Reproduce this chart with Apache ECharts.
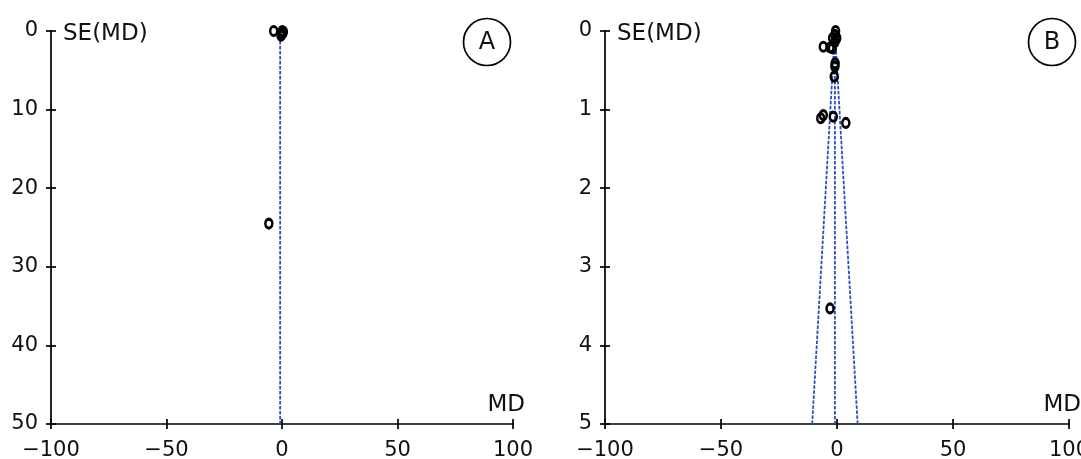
<!DOCTYPE html>
<html><head><meta charset="utf-8">
<script src="https://cdn.jsdelivr.net/npm/echarts@6/dist/echarts.min.js"></script>
<style>html,body{margin:0;padding:0;background:#fff}#c{width:1081px;height:459px}</style>
</head><body><div id="c"></div>
<script>
// ---- data ----
const mdTicks = [-100, -50, 0, 50, 100];
const seTicksA = [0, 10, 20, 30, 40, 50];
const seTicksB = [0, 1, 2, 3, 4, 5];
const panelLabels = ['A', 'B'];

const studiesA_MD = [-3.6, 0.1, 0.6, -0.2, 0.3, -0.4, -5.7];
const studiesA_SE = [0.0, 0.0, 0.1, 0.4, 0.3, 0.6, 24.5];

const studiesB_MD = [-0.6, -0.9, -1.9, -0.1, -5.9, -3.0, -2.0, -0.9, -0.8, -0.9, -1.2, -5.9, -7.0, -1.6, 3.8, -3.0];
const studiesB_SE = [0.0, 0.05, 0.09, 0.09, 0.2, 0.21, 0.22, 0.14, 0.41, 0.45, 0.58, 1.07, 1.11, 1.09, 1.17, 3.53];

const pooledA = -0.8;
const pooledB = -0.9;
const funnelBottomB = [-10.7, 8.9]; // MD of the 95% limits at SE = 5

// ---- chart ----
const FONT = 'DejaVu Sans';
const TXT = '#111';
const grids = [
  { left: 51, top: 31, width: 462, height: 393 },
  { left: 605, top: 31, width: 464, height: 393 }
];
const fmt = v => String(v).replace('-', '\u2212');

function xAxes(g, ticks) {
  const base = { type: 'value', gridIndex: g, min: ticks[0], max: ticks[ticks.length - 1],
    interval: ticks[1] - ticks[0], position: 'bottom', splitLine: { show: false } };
  return [
    Object.assign({}, base, {
      name: 'MD', nameLocation: 'end', nameGap: 12,
      nameTextStyle: { fontFamily: FONT, fontSize: 23, color: TXT, align: 'right', verticalAlign: 'bottom', padding: [0, 0, 7, 0] },
      axisLine: { onZero: false, lineStyle: { color: '#000', width: 1.7 } },
      axisTick: { inside: false, length: 5, lineStyle: { color: '#000', width: 1.7 } },
      axisLabel: { fontFamily: FONT, fontSize: 21, color: TXT, margin: 16, formatter: fmt }
    }),
    Object.assign({}, base, {
      axisLine: { show: false, onZero: false },
      axisTick: { inside: true, length: 5, lineStyle: { color: '#000', width: 1.7 } },
      axisLabel: { show: false }
    })
  ];
}
function yAxes(g, ticks) {
  const base = { type: 'value', gridIndex: g, inverse: true, min: ticks[0], max: ticks[ticks.length - 1],
    interval: ticks[1] - ticks[0], position: 'left', splitLine: { show: false } };
  return [
    Object.assign({}, base, {
      name: 'SE(MD)', nameLocation: 'start', nameGap: -3,
      nameTextStyle: { fontFamily: FONT, fontSize: 23, color: TXT, align: 'left', verticalAlign: 'middle', padding: [0, 0, 0, 12] },
      axisLine: { onZero: false, lineStyle: { color: '#000', width: 1.7 } },
      axisTick: { inside: false, length: 5, lineStyle: { color: '#000', width: 1.7 } },
      axisLabel: { fontFamily: FONT, fontSize: 21, color: TXT, margin: 13, formatter: fmt }
    }),
    Object.assign({}, base, {
      axisLine: { show: false, onZero: false },
      axisTick: { inside: true, length: 5, lineStyle: { color: '#000', width: 1.7 } },
      axisLabel: { show: false }
    })
  ];
}

const dash = { color: '#2f4fb8', width: 1.8, type: [3.5, 1.5] };
function line(xi, yi, pts) {
  return { type: 'line', xAxisIndex: xi, yAxisIndex: yi, data: pts, symbol: 'none', silent: true,
    lineStyle: dash, z: 2 };
}
function scatter(xi, yi, md, se) {
  return { type: 'scatter', xAxisIndex: xi, yAxisIndex: yi, data: md.map((m, i) => [m, se[i]]),
    symbol: 'circle', symbolSize: [7, 9], z: 5,
    itemStyle: { color: 'rgba(0,0,0,0)', borderColor: '#000', borderWidth: 2.8, opacity: 1 } };
}

const seMaxA = seTicksA[seTicksA.length - 1];
const seMaxB = seTicksB[seTicksB.length - 1];

const series = [
  line(0, 0, [[pooledA, 0], [pooledA, seMaxA]]),
  scatter(0, 0, studiesA_MD, studiesA_SE),
  line(2, 2, [[pooledB, 0], [pooledB, seMaxB]]),
  line(2, 2, [[pooledB, 0], [funnelBottomB[0], seMaxB]]),
  line(2, 2, [[pooledB, 0], [funnelBottomB[1], seMaxB]]),
  scatter(2, 2, studiesB_MD, studiesB_SE)
];

const badgePos = [[487, 42], [1052, 42]];
const graphic = [];
panelLabels.forEach((t, i) => {
  graphic.push({ type: 'circle', shape: { cx: badgePos[i][0], cy: badgePos[i][1], r: 23.5 },
    style: { fill: 'none', stroke: '#000', lineWidth: 1.7 } });
  graphic.push({ type: 'text', x: badgePos[i][0], y: badgePos[i][1] + 1,
    style: { text: t, fill: TXT, font: '24px "' + FONT + '"', align: 'center', verticalAlign: 'middle' } });
});

const chart = echarts.init(document.getElementById('c'), null, { renderer: 'canvas' });
chart.setOption({
  animation: false,
  backgroundColor: '#fff',
  grid: grids.map(g => Object.assign({ outerBoundsMode: 'none', containLabel: false }, g)),
  xAxis: [...xAxes(0, mdTicks), ...xAxes(1, mdTicks)],
  yAxis: [...yAxes(0, seTicksA), ...yAxes(1, seTicksB)],
  series: series,
  graphic: graphic
});
</script>
</body></html>
